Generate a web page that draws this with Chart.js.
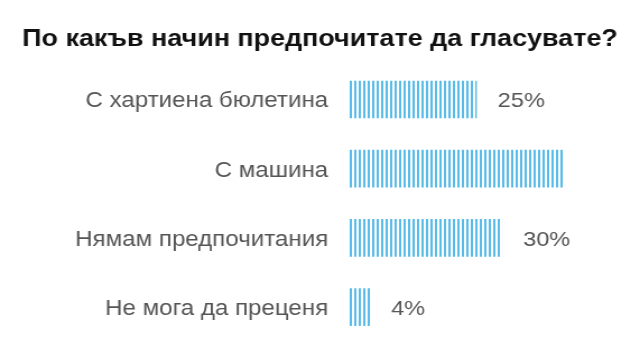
<!DOCTYPE html>
<html lang="bg">
<head>
<meta charset="utf-8">
<script src="https://cdn.jsdelivr.net/npm/chart.js@4/dist/chart.umd.min.js"></script>
<style>
  html, body { margin: 0; padding: 0; background: #fff; overflow: hidden; }
  /* the chart is laid out a bit narrower and stretched to full width */
  #wrap { width: 571px; height: 339px; transform: scaleX(1.12084); transform-origin: 0 0; }
</style>
</head>
<body>
<div id="wrap"><canvas id="chart"></canvas></div>
<script>
const title = 'По какъв начин предпочитате да гласувате?';
const answers = ['С хартиена бюлетина', 'С машина', 'Нямам предпочитания', 'Не мога да преценя'];
const shares = [25, 42, 30, 4];
const showValue = [true, false, true, true];

const FONT = '"Liberation Sans", Arial, sans-serif';

// vertical blue stripes, like the printed bars
function stripes() {
  const c = document.createElement('canvas');
  c.width = 4; c.height = 4;
  const g = c.getContext('2d');
  g.fillStyle = '#58bbe8';
  g.fillRect(0, 0, 2, 4);
  return g.createPattern(c, 'repeat');
}

const valueLabels = {
  id: 'valueLabels',
  afterDatasetsDraw(chart) {
    const ctx = chart.ctx;
    const meta = chart.getDatasetMeta(0);
    ctx.save();
    ctx.font = '21px ' + FONT;
    ctx.fillStyle = '#555';
    ctx.textBaseline = 'middle';
    meta.data.forEach((bar, i) => {
      if (!showValue[i]) return;
      ctx.fillText(shares[i] + '%', bar.x + 19, bar.y + 2);
    });
    ctx.restore();
  }
};

new Chart(document.getElementById('chart'), {
  type: 'bar',
  data: {
    labels: answers,
    datasets: [{
      data: shares,
      backgroundColor: stripes(),
      borderWidth: 0,
      barThickness: 37,
      clip: false
    }]
  },
  options: {
    indexAxis: 'y',
    responsive: true,
    maintainAspectRatio: false,
    animation: false,
    layout: { padding: { left: 0, right: 0, top: 0, bottom: 29.5 } },
    plugins: {
      legend: { display: false },
      tooltip: { enabled: false },
      title: {
        display: true,
        text: title,
        color: '#111',
        font: { family: FONT, size: 24, weight: 'bold' },
        padding: { top: 25, bottom: 45.7 }
      }
    },
    scales: {
      x: { display: false, min: 0, max: 57.2 },
      y: {
        offset: false,
        grid: { display: false, drawTicks: false },
        border: { display: false },
        afterFit(scale) { scale.width = 311.8; },
        ticks: {
          color: '#555',
          padding: 19,
          labelOffset: 2,
          font: { family: FONT, size: 21.5 }
        }
      }
    }
  },
  plugins: [valueLabels]
});
</script>
</body>
</html>
